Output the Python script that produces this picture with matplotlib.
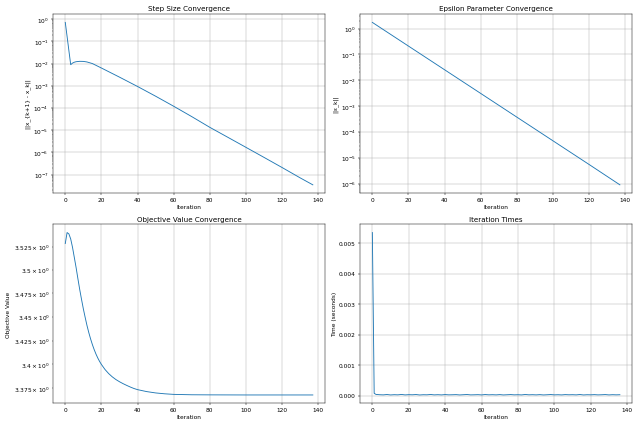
import numpy as np
import matplotlib
matplotlib.use("Agg")
import matplotlib.pyplot as plt

# values
step_iters = [0, 1, 2, 3, 4, 5, 6, 8, 10, 12, 15, 20, 30, 40, 50, 60, 70, 80, 90, 100, 110, 120, 130, 137]
step_vals = [0.71, 0.166, 0.038, 0.0089, 0.0105, 0.0115, 0.0121, 0.0126, 0.0125, 0.0118, 0.0100, 0.0063,
             2.45e-3, 9.3e-4, 3.4e-4, 1.2e-4, 4.1e-5, 1.35e-5, 4.8e-6, 1.7e-6, 6.0e-7, 2.1e-7, 7.2e-8, 3.5e-8]

eps_iters = [0, 20, 40, 60, 80, 100, 120, 137]
eps_vals = [1.72, 0.209, 0.0254, 3.09e-3, 3.75e-4, 4.56e-5, 5.54e-6, 9.1e-7]

obj_iters = [0, 1, 2, 3, 4, 5, 6, 7, 8, 9, 10, 11, 12, 13, 14, 15, 16, 17, 18, 19, 20, 22, 24, 26, 28, 30,
             32, 34, 36, 38, 40, 45, 50, 55, 60, 70, 80, 100, 120, 137]
obj_vals = [3.5286, 3.5405, 3.5390, 3.5335, 3.5245, 3.5135, 3.5025, 3.4905, 3.4790, 3.4685, 3.4585, 3.4495,
            3.4410, 3.4335, 3.4268, 3.4208, 3.4155, 3.4108, 3.4067, 3.4031, 3.4000, 3.3947, 3.3905, 3.3871,
            3.3843, 3.3820, 3.3800, 3.3782, 3.3765, 3.3750, 3.3738, 3.3718, 3.3704, 3.3695, 3.3689,
            3.3685, 3.3684, 3.3683, 3.3683, 3.3683]

time_iters = [0, 1] + list(range(2, 138, 2))
time_vals = [0.00535, 0.00008, 0.000045, 0.000035, 0.00003, 0.000042, 0.000028, 0.000036, 0.000031, 0.000044,
             0.000029, 0.000037, 0.000033, 0.000041, 0.000027, 0.000035, 0.000032, 0.000043, 0.000030, 0.000036,
             0.000029, 0.000040, 0.000031, 0.000034, 0.000038, 0.000028, 0.000035, 0.000042, 0.000030, 0.000033,
             0.000037, 0.000029, 0.000041, 0.000032, 0.000036, 0.000030, 0.000039, 0.000028, 0.000034, 0.000040,
             0.000031, 0.000035, 0.000029, 0.000043, 0.000032, 0.000036, 0.000030, 0.000038, 0.000028, 0.000034,
             0.000041, 0.000031, 0.000035, 0.000029, 0.000039, 0.000033, 0.000036, 0.000030, 0.000042, 0.000028,
             0.000035, 0.000032, 0.000038, 0.000030, 0.000034, 0.000040, 0.000029, 0.000036, 0.000031, 0.000035]

fig, axes = plt.subplots(2, 2, figsize=(15, 10), dpi=640 / 15)

ax = axes[0, 0]
ax.semilogy(step_iters, step_vals)
ax.set_title("Step Size Convergence")
ax.set_xlabel("Iteration")
ax.set_ylabel("||x_{k+1} - x_k||")
ax.grid(True)

ax = axes[0, 1]
ax.semilogy(eps_iters, eps_vals)
ax.set_title("Epsilon Parameter Convergence")
ax.set_xlabel("Iteration")
ax.set_ylabel("||ε_k||")
ax.grid(True)

ax = axes[1, 0]
ax.semilogy(obj_iters, obj_vals)
ax.set_title("Objective Value Convergence")
ax.set_xlabel("Iteration")
ax.set_ylabel("Objective Value")
ax.grid(True)

ax = axes[1, 1]
ax.plot(time_iters, time_vals)
ax.set_title("Iteration Times")
ax.set_xlabel("Iteration")
ax.set_ylabel("Time (seconds)")
ax.grid(True)

plt.tight_layout()
plt.savefig("out.png", dpi=640 / 15)
